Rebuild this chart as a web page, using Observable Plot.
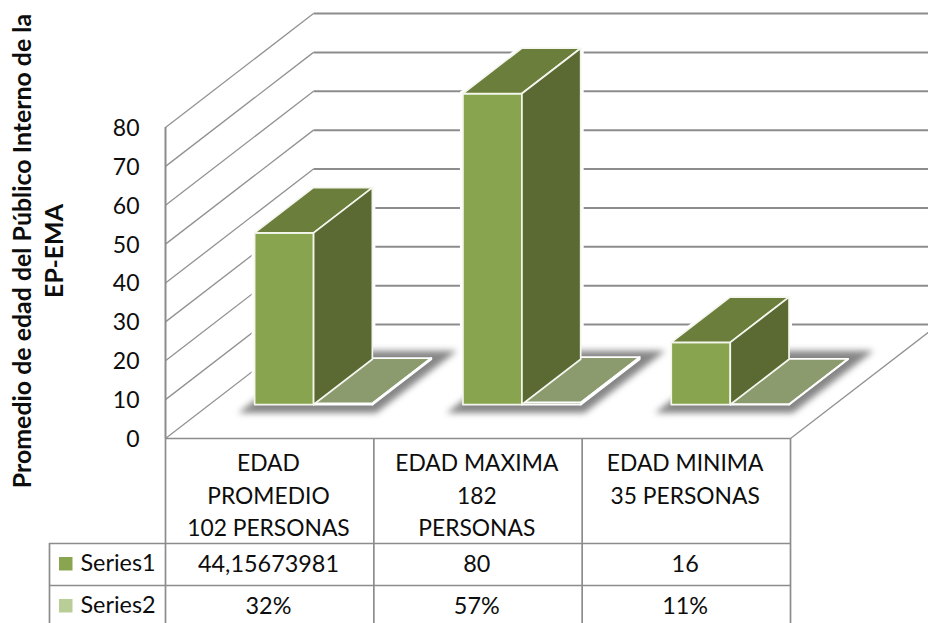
<!DOCTYPE html>
<html>
<head>
<meta charset="utf-8">
<script src="https://cdn.jsdelivr.net/npm/d3@7"></script>
<script src="https://cdn.jsdelivr.net/npm/@observablehq/plot@0.6"></script>
<style>
  html, body { margin: 0; padding: 0; background: #fff; }
  svg { display: block; }
</style>
</head>
<body>
<div id="chart"></div>
<script>
// Chart values
const categoryLines = [
  ["EDAD", "PROMEDIO", "102 PERSONAS"],
  ["EDAD MAXIMA", "182", "PERSONAS"],
  ["EDAD MINIMA", "35 PERSONAS"]
];
const series1 = [44.15673981, 80, 16];
const series2 = [0.32, 0.57, 0.11];
const series1Labels = ["44,15673981", "80", "16"];
const series2Labels = ["32%", "57%", "11%"];
const seriesNames = ["Series1", "Series2"];
const valueTicks = [0, 10, 20, 30, 40, 50, 60, 70, 80];
const axisTitle = ["Promedio de edad del Público Interno de la", "EP-EMA"];

// Layout of the oblique 3D box, in plot units
const FONT = "Lato, sans-serif";
const W = 928, H = 623, left = 165, right = 790, floorY = 438, topY = 127;
const unitX = (right - left) / 3;
const unitY = (floorY - topY) / 80;
const wallDX = 148 / unitX;       // shift in categories of a full-depth step
const wallDY = 114 / unitY;       // shift in value units of a full-depth step
const zFront = 0.298, zDepth = 0.397;
const barInset = 45 / unitX, barWidth = 59 / unitX;

// Oblique projection from (category, value, depth) to the plot's x and y
const proj = (c, v, z) => ({x: c + z * wallDX, y: v + z * wallDY});
const pxY = (py) => (floorY - py) / unitY;    // pixel row below the floor, as value units
const pxX = (px) => (px - left) / unitX;

function polygon(id, face, corners) {
  const pts = corners.map(([c, v, z]) => ({...proj(c, v, z), id, face}));
  pts.push({...pts[0]});
  return pts;
}

// Three visible faces of a box
function boxFaces(id, c0, c1, v) {
  const z0 = zFront, z1 = zFront + zDepth;
  return [
    ...polygon(id + "-front", "front", [[c0, 0, z0], [c1, 0, z0], [c1, v, z0], [c0, v, z0]]),
    ...polygon(id + "-top", "top", [[c0, v, z0], [c1, v, z0], [c1, v, z1], [c0, v, z1]]),
    ...polygon(id + "-side", "side", [[c1, 0, z0], [c1, 0, z1], [c1, v, z1], [c1, v, z0]])
  ];
}

const boxes1 = series1.flatMap((v, i) =>
  boxFaces("a" + i, i + barInset, i + barInset + barWidth, v));
const boxes2 = series2.flatMap((v, i) =>
  boxFaces("b" + i, i + barInset + barWidth, i + barInset + 2 * barWidth, v));

const shadows = series1.flatMap((_, i) => {
  const c0 = i + barInset - 0.025, c1 = i + barInset + 2 * barWidth + 0.07;
  const z0 = zFront - 0.075, z1 = zFront + zDepth + 0.075;
  return polygon("s" + i, "shadow", [[c0, 0, z0], [c1, 0, z0], [c1, 0, z1], [c0, 0, z1]]);
});

// Wall and floor grid
const grid = "#8c8c8c";
const sideLines = valueTicks.map((v) => {
  const a = proj(0, v, 0), b = proj(0, v, 1);
  return {x1: a.x, y1: a.y, x2: b.x, y2: b.y};
});
const backLines = valueTicks.map((v) => {
  const a = proj(0, v, 1), b = proj(3, v, 1);
  return {x1: a.x, y1: a.y, x2: b.x, y2: b.y};
});
const floorEdge = (() => {
  const a = proj(3, 0, 0), b = proj(3, 0, 1);
  return [{x1: a.x, y1: a.y, x2: b.x, y2: b.y}];
})();

// Data table under the floor
const tableRows = [pxY(438), pxY(543), pxY(585), pxY(630)];
const tableVerticals = [0, 1, 2, 3].map((c) => ({x: c, y1: tableRows[0], y2: tableRows[3]}));
const tableHorizontals = [
  {x1: 0, x2: 3, y: tableRows[0]},
  {x1: pxX(49), x2: 3, y: tableRows[1]},
  {x1: pxX(49), x2: 3, y: tableRows[2]}
];
const nameColumn = [{x: pxX(49), y1: tableRows[1], y2: tableRows[3]}];

const cellCenter = (i) => i + 0.5 - 1.2 / unitX;
const categoryText = categoryLines.flatMap((lines, i) =>
  lines.map((t, j) => ({t, x: cellCenter(i), y: pxY(463.5 + j * 32.6)})));
const valueText = [
  ...series1Labels.map((t, i) => ({t, x: cellCenter(i), y: pxY(564)})),
  ...series2Labels.map((t, i) => ({t, x: cellCenter(i), y: pxY(605.5)}))
];
const nameText = seriesNames.map((t, i) => ({t, x: pxX(80), y: pxY(i ? 605 : 563)}));
const swatches = seriesNames.map((t, i) => ({
  x1: pxX(59), x2: pxX(72.5),
  y1: pxY(i ? 599 : 557), y2: pxY(i ? 612.5 : 570.5),
  fill: i ? "#b9cd96" : "#8aa550"
}));
const titleText = axisTitle.map((t, i) => ({t, x: pxX(i ? 55 : 23), y: pxY(250.5)}));

const faceFill = {front: "#89a44f", top: "#6c7e3b", side: "#5a6a32"};
const textStyle = {fontFamily: FONT, fontSize: 22.8, fill: "#0d0d0d"};
const cellStyle = {fontFamily: FONT, fontSize: 23.4, fill: "#0d0d0d"};

const chart = Plot.plot({
  width: W, height: H,
  marginLeft: left, marginRight: W - right,
  marginTop: topY, marginBottom: H - floorY,
  x: {domain: [0, 3], axis: null},
  y: {domain: [0, 80], axis: null},
  style: {background: "#fff"},
  marks: [
    // walls
    Plot.link(sideLines, {x1: "x1", y1: "y1", x2: "x2", y2: "y2", stroke: "#929292", strokeWidth: 1.3}),
    Plot.link(backLines, {x1: "x1", y1: "y1", x2: "x2", y2: "y2", stroke: grid, strokeWidth: 2}),
    Plot.link(floorEdge, {x1: "x1", y1: "y1", x2: "x2", y2: "y2", stroke: "#929292", strokeWidth: 1.3}),

    // clearance around the columns
    Plot.line(boxes1, {x: "x", y: "y", z: "id", fill: "#fff", stroke: "#fff", strokeWidth: 6, curve: "linear"}),

    // floor shadows
    Plot.line(shadows, {x: "x", y: "y", z: "id", fill: "#868686", stroke: "none", curve: "linear", imageFilter: "blur(3px)"}),

    // columns
    Plot.line(boxes2, {x: "x", y: "y", z: "id", fill: "#8b9b6e", stroke: "#fff", strokeWidth: 1.7, curve: "linear"}),
    Plot.line(boxes1, {x: "x", y: "y", z: "id", fill: (d) => faceFill[d.face], stroke: "#f4f6ee", strokeWidth: 1.7, curve: "linear"}),

    // value axis
    Plot.axisY(valueTicks, {
      anchor: "left", tickSize: 0, tickPadding: 26, label: null,
      fontFamily: FONT, fontSize: 23, fill: "#0d0d0d", tickFormat: (d) => String(d), dy: 1
    }),
    Plot.ruleX([0], {y1: 0, y2: 80, stroke: grid, strokeWidth: 2}),

    // table grid
    Plot.ruleX(tableVerticals, {x: "x", y1: "y1", y2: "y2", stroke: grid, strokeWidth: 1.7}),
    Plot.ruleX(nameColumn, {x: "x", y1: "y1", y2: "y2", stroke: grid, strokeWidth: 1.7}),
    Plot.ruleY(tableHorizontals, {y: "y", x1: "x1", x2: "x2", stroke: grid, strokeWidth: 1.7}),

    // table contents
    Plot.text(categoryText, {x: "x", y: "y", text: "t", ...textStyle}),
    Plot.text(valueText, {x: "x", y: "y", text: "t", ...cellStyle}),
    Plot.text(nameText, {x: "x", y: "y", text: "t", textAnchor: "start", ...cellStyle}),
    Plot.rect(swatches, {x1: "x1", x2: "x2", y1: "y1", y2: "y2", fill: "fill"}),

    // axis title
    Plot.text(titleText, {x: "x", y: "y", text: "t", rotate: -90, fontFamily: FONT, fontSize: 24.9, fontWeight: 700, fill: "#0d0d0d"})
  ]
});
document.getElementById("chart").appendChild(chart);
</script>
</body>
</html>
